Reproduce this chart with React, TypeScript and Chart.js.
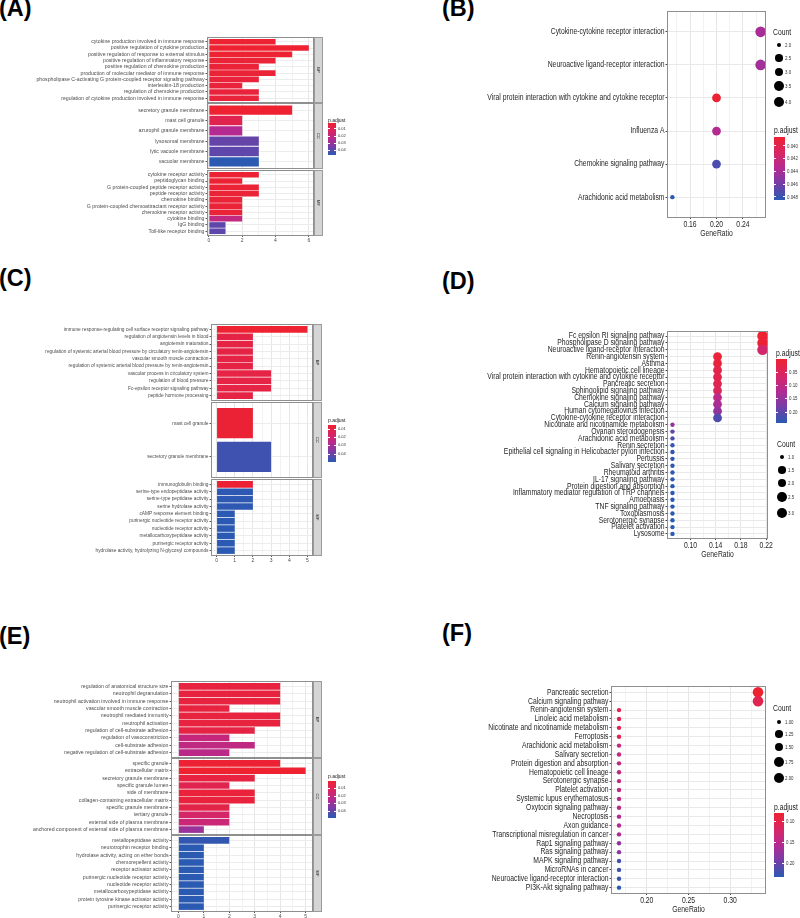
import React, { useEffect, useRef } from "react";
import { Chart, registerables } from "chart.js";

Chart.register(...registerables);

const SANS = "'Liberation Sans', Arial, Helvetica, sans-serif";
const DOT_FONT = 8.5;
const DOT_SQUEEZE = 0.8;

/* ========================= DATA ========================= */

// (A) GO enrichment barplot
const aBpTerms = [
  "cytokine production involved in immune response",
  "positive regulation of cytokine production",
  "positive regulation of response to external stimulus",
  "positive regulation of inflammatory response",
  "positive regulation of chemokine production",
  "production of molecular mediator of immune response",
  "phospholipase C-activating G protein-coupled receptor signaling pathway",
  "interleukin-18 production",
  "regulation of chemokine production",
  "regulation of cytokine production involved in immune response",
];
const aBpCount = [4, 6, 5, 4, 3, 4, 3, 2, 3, 3];
const aBpPadj = [0.002, 0.0017, 0.002, 0.003, 0.0035, 0.003, 0.004, 0.004, 0.004, 0.004];
const aCcTerms = [
  "secretory granule membrane",
  "mast cell granule",
  "azurophil granule membrane",
  "lysosomal membrane",
  "lytic vacuole membrane",
  "vacuolar membrane",
];
const aCcCount = [5, 2, 2, 3, 3, 3];
const aCcPadj = [0.0016, 0.0083, 0.024, 0.038, 0.039, 0.047];
const aMfTerms = [
  "cytokine receptor activity",
  "peptidoglycan binding",
  "G protein-coupled peptide receptor activity",
  "peptide receptor activity",
  "chemokine binding",
  "G protein-coupled chemoattractant receptor activity",
  "chemokine receptor activity",
  "cytokine binding",
  "IgG binding",
  "Toll-like receptor binding",
];
const aMfCount = [3, 2, 3, 3, 2, 2, 2, 2, 1, 1];
const aMfPadj = [0.0024, 0.0024, 0.003, 0.003, 0.0035, 0.0035, 0.0035, 0.02, 0.039, 0.039];
const aPadjLimits = [0.0015, 0.047];
const aPadjTicks = [0.01, 0.02, 0.03, 0.04];
const aCountLimits = [-0.05, 6.25];
const aCountTicks = [0, 1, 2, 3, 4, 5, 6];
const aCountLabelled = [0, 2, 4, 6];

// (B) KEGG dotplot
const bTerms = [
  "Cytokine-cytokine receptor interaction",
  "Neuroactive ligand-receptor interaction",
  "Viral protein interaction with cytokine and cytokine receptor",
  "Influenza A",
  "Chemokine signaling pathway",
  "Arachidonic acid metabolism",
];
const bRatio = [0.2667, 0.2667, 0.2, 0.2, 0.2, 0.1333];
const bCount = [4, 4, 3, 3, 3, 2];
const bPadj = [0.0441, 0.0443, 0.0388, 0.0436, 0.0474, 0.0484];
const bPadjLimits = [0.0386, 0.0485];
const bPadjTicks = [0.04, 0.042, 0.044, 0.046, 0.048];
const bCountLimits = [2, 4];
const bCountKeys = [2.0, 2.5, 3.0, 3.5, 4.0];
const bRatioLimits = [0.1267, 0.2733];
const bRatioTicks = [0.14, 0.16, 0.18, 0.2, 0.22, 0.24, 0.26];
const bRatioLabelled = [0.16, 0.2, 0.24];

// (C) GO enrichment barplot
const cBpTerms = [
  "immune response-regulating cell surface receptor signaling pathway",
  "regulation of angiotensin levels in blood",
  "angiotensin maturation",
  "regulation of systemic arterial blood pressure by circulatory renin-angiotensin",
  "vascular smooth muscle contraction",
  "regulation of systemic arterial blood pressure by renin-angiotensin",
  "vascular process in circulatory system",
  "regulation of blood pressure",
  "Fc-epsilon receptor signaling pathway",
  "peptide hormone processing",
];
const cBpCount = [5, 2, 2, 2, 2, 2, 3, 3, 3, 2];
const cBpPadj = [0.0053, 0.0096, 0.0096, 0.0096, 0.0096, 0.0096, 0.0098, 0.0098, 0.0098, 0.0096];
const cCcTerms = ["mast cell granule", "secretory granule membrane"];
const cCcCount = [2, 3];
const cCcPadj = [0.0065, 0.0465];
const cMfTerms = [
  "immunoglobulin binding",
  "serine-type endopeptidase activity",
  "serine-type peptidase activity",
  "serine hydrolase activity",
  "cAMP response element binding",
  "purinergic nucleotide receptor activity",
  "nucleotide receptor activity",
  "metallocarboxypeptidase activity",
  "purinergic receptor activity",
  "hydrolase activity, hydrolyzing N-glycosyl compounds",
];
const cMfCount = [2, 2, 2, 2, 1, 1, 1, 1, 1, 1];
const cMfPadj = [0.006, 0.0492, 0.0492, 0.0492, 0.0495, 0.0495, 0.0495, 0.0495, 0.0495, 0.0495];
const cPadjLimits = [0.0052, 0.0496];
const cPadjTicks = [0.01, 0.02, 0.03, 0.04];
const cCountLimits = [-0.25, 5.25];
const cCountTicks = [0, 0.5, 1, 1.5, 2, 2.5, 3, 3.5, 4, 4.5, 5];
const cCountLabelled = [0, 1, 2, 3, 4, 5];

// (D) KEGG dotplot
const dTerms = [
  "Fc epsilon RI signaling pathway",
  "Phospholipase D signaling pathway",
  "Neuroactive ligand-receptor interaction",
  "Renin-angiotensin system",
  "Asthma",
  "Hematopoietic cell lineage",
  "Viral protein interaction with cytokine and cytokine receptor",
  "Pancreatic secretion",
  "Sphingolipid signaling pathway",
  "Chemokine signaling pathway",
  "Calcium signaling pathway",
  "Human cytomegalovirus infection",
  "Cytokine-cytokine receptor interaction",
  "Nicotinate and nicotinamide metabolism",
  "Ovarian steroidogenesis",
  "Arachidonic acid metabolism",
  "Renin secretion",
  "Epithelial cell signaling in Helicobacter pylori infection",
  "Pertussis",
  "Salivary secretion",
  "Rheumatoid arthritis",
  "IL-17 signaling pathway",
  "Protein digestion and absorption",
  "Inflammatory mediator regulation of TRP channels",
  "Amoebiasis",
  "TNF signaling pathway",
  "Toxoplasmosis",
  "Serotonergic synapse",
  "Platelet activation",
  "Lysosome",
];
const dRatio = [
  0.2143, 0.2143, 0.2143,
  0.1429, 0.1429, 0.1429, 0.1429, 0.1429, 0.1429, 0.1429, 0.1429, 0.1429, 0.1429,
  0.0714, 0.0714, 0.0714, 0.0714, 0.0714, 0.0714, 0.0714, 0.0714, 0.0714, 0.0714,
  0.0714, 0.0714, 0.0714, 0.0714, 0.0714, 0.0714, 0.0714,
];
const dCount = [3, 3, 3, 2, 2, 2, 2, 2, 2, 2, 2, 2, 2, 1, 1, 1, 1, 1, 1, 1, 1, 1, 1, 1, 1, 1, 1, 1, 1, 1];
const dPadj = [
  0.002, 0.006, 0.07,
  0.013, 0.015, 0.03, 0.035, 0.039, 0.049, 0.11, 0.128, 0.152, 0.212,
  0.152, 0.2, 0.218, 0.232, 0.234, 0.235, 0.236, 0.237, 0.237, 0.238,
  0.238, 0.239, 0.239, 0.24, 0.24, 0.241, 0.241,
];
const dPadjLimits = [0.001, 0.241];
const dPadjTicks = [0.05, 0.1, 0.15, 0.2];
const dCountLimits = [1, 3];
const dCountKeys = [1.0, 1.5, 2.0, 2.5, 3.0];
const dRatioLimits = [0.0643, 0.2214];
const dRatioTicks = [0.08, 0.1, 0.12, 0.14, 0.16, 0.18, 0.2, 0.22];
const dRatioLabelled = [0.1, 0.14, 0.18, 0.22];

// (E) GO enrichment barplot
const eBpTerms = [
  "regulation of anatomical structure size",
  "neutrophil degranulation",
  "neutrophil activation involved in immune response",
  "vascular smooth muscle contraction",
  "neutrophil mediated immunity",
  "neutrophil activation",
  "regulation of cell-substrate adhesion",
  "regulation of vasoconstriction",
  "cell-substrate adhesion",
  "negative regulation of cell-substrate adhesion",
];
const eBpCount = [4, 4, 4, 2, 4, 4, 3, 2, 3, 2];
const eBpPadj = [0.0037, 0.0037, 0.0037, 0.0037, 0.0037, 0.0037, 0.0051, 0.0186, 0.0205, 0.022];
const eCcTerms = [
  "specific granule",
  "extracellular matrix",
  "secretory granule membrane",
  "specific granule lumen",
  "side of membrane",
  "collagen-containing extracellular matrix",
  "specific granule membrane",
  "tertiary granule",
  "external side of plasma membrane",
  "anchored component of external side of plasma membrane",
];
const eCcCount = [4, 5, 3, 2, 3, 3, 2, 2, 2, 1];
const eCcPadj = [0.0013, 0.0004, 0.0042, 0.0075, 0.0027, 0.0032, 0.0061, 0.0138, 0.0172, 0.0292];
const eMfTerms = [
  "metallopeptidase activity",
  "neurotrophin receptor binding",
  "hydrolase activity, acting on ether bonds",
  "chemorepellent activity",
  "receptor activator activity",
  "purinergic nucleotide receptor activity",
  "nucleotide receptor activity",
  "metallocarboxypeptidase activity",
  "protein tyrosine kinase activator activity",
  "purinergic receptor activity",
];
const eMfCount = [2, 1, 1, 1, 1, 1, 1, 1, 1, 1];
const eMfPadj = [0.047, 0.0485, 0.0485, 0.0485, 0.0485, 0.0485, 0.0485, 0.0485, 0.0485, 0.0485];
const ePadjLimits = [0.0003, 0.0485];
const ePadjTicks = [0.01, 0.02, 0.03, 0.04];
const eCountLimits = [-0.25, 5.25];
const eCountTicks = [0, 0.5, 1, 1.5, 2, 2.5, 3, 3.5, 4, 4.5, 5];
const eCountLabelled = [0, 1, 2, 3, 4, 5];

// (F) KEGG dotplot
const fTerms = [
  "Pancreatic secretion",
  "Calcium signaling pathway",
  "Renin-angiotensin system",
  "Linoleic acid metabolism",
  "Nicotinate and nicotinamide metabolism",
  "Ferroptosis",
  "Arachidonic acid metabolism",
  "Salivary secretion",
  "Protein digestion and absorption",
  "Hematopoietic cell lineage",
  "Serotonergic synapse",
  "Platelet activation",
  "Systemic lupus erythematosus",
  "Oxytocin signaling pathway",
  "Necroptosis",
  "Axon guidance",
  "Transcriptional misregulation in cancer",
  "Rap1 signaling pathway",
  "Ras signaling pathway",
  "MAPK signaling pathway",
  "MicroRNAs in cancer",
  "Neuroactive ligand-receptor interaction",
  "PI3K-Akt signaling pathway",
];
const fRatio = [
  0.3333, 0.3333, 0.1667, 0.1667, 0.1667, 0.1667, 0.1667, 0.1667, 0.1667, 0.1667, 0.1667, 0.1667,
  0.1667, 0.1667, 0.1667, 0.1667, 0.1667, 0.1667, 0.1667, 0.1667, 0.1667, 0.1667, 0.1667,
];
const fCount = [2, 2, 1, 1, 1, 1, 1, 1, 1, 1, 1, 1, 1, 1, 1, 1, 1, 1, 1, 1, 1, 1, 1];
const fPadj = [
  0.082, 0.104, 0.104, 0.106, 0.106, 0.107, 0.139, 0.142, 0.142, 0.143, 0.145, 0.145,
  0.146, 0.149, 0.157, 0.157, 0.16, 0.178, 0.181, 0.219, 0.222, 0.226, 0.232,
];
const fPadjLimits = [0.081, 0.233];
const fPadjTicks = [0.1, 0.15, 0.2];
const fCountLimits = [1, 2];
const fCountKeys = [1.0, 1.25, 1.5, 1.75, 2.0];
const fRatioLimits = [0.1583, 0.3417];
const fRatioTicks = [0.175, 0.2, 0.225, 0.25, 0.275, 0.3, 0.325];
const fRatioLabelled = [0.2, 0.25, 0.3];

/* ========================= HELPERS ========================= */

const RAMP = [
  [238, 34, 48],
  [216, 38, 100],
  [180, 42, 145],
  [116, 62, 168],
  [42, 90, 178],
];
function ramp(t: number): string {
  const c = Math.max(0, Math.min(1, t)) * (RAMP.length - 1);
  const i = Math.min(Math.floor(c), RAMP.length - 2);
  const f = c - i;
  const rgb = RAMP[i].map((v, k) => Math.round(v + (RAMP[i + 1][k] - v) * f));
  return `rgb(${rgb.join(",")})`;
}
const padjColour = (p: number, lim: number[]) => ramp((p - lim[0]) / (lim[1] - lim[0]));
const dotRadius = (c: number, lim: number[]) =>
  (4.4 + 6.2 * Math.sqrt(Math.max(0, (c - lim[0]) / (lim[1] - lim[0])))) / 2;
const near = (list: number[], v: number) => list.some((m) => Math.abs(m - v) < 1e-6);

function framePlugin(strip?: string) {
  return {
    id: "panelFrame",
    afterDraw(chart: any) {
      const { ctx, chartArea: a } = chart;
      ctx.save();
      ctx.strokeStyle = "#8f8f8f";
      ctx.lineWidth = 1;
      const l = Math.round(a.left) - 0.5;
      const t = Math.round(a.top) - 0.5;
      const r = Math.round(a.right) + 0.5;
      const b = Math.round(a.bottom) + 0.5;
      ctx.strokeRect(l, t, r - l, b - t);
      if (strip) {
        const sx = r + 1;
        const sw = 8;
        ctx.fillStyle = "#d5d5d5";
        ctx.fillRect(sx, t, sw, b - t);
        ctx.strokeStyle = "#9a9a9a";
        ctx.strokeRect(sx, t, sw, b - t);
        ctx.translate(sx + sw / 2, (t + b) / 2);
        ctx.rotate(Math.PI / 2);
        ctx.font = `4px ${SANS}`;
        ctx.fillStyle = "#1a1a1a";
        ctx.textAlign = "center";
        ctx.textBaseline = "middle";
        ctx.fillText(strip, 0, 0);
      }
      ctx.restore();
    },
  };
}

// Draws the category labels of a dot plot, condensed horizontally like the reference.
function condensedLabelPlugin(terms: string[]) {
  return {
    id: "condensedLabels",
    afterDraw(chart: any) {
      const { ctx, chartArea: a } = chart;
      const ys = chart.scales.y;
      const xs = chart.scales.x;
      ctx.save();
      ctx.font = `${DOT_FONT}px ${SANS}`;
      ctx.fillStyle = "#1f1f1f";
      ctx.textAlign = "right";
      ctx.textBaseline = "middle";
      terms.forEach((t, i) => {
        ctx.save();
        ctx.translate(a.left - 3.5, ys.getPixelForValue(i));
        ctx.scale(DOT_SQUEEZE, 1);
        ctx.fillText(t, 0, 0);
        ctx.restore();
      });
      ctx.textAlign = "center";
      ctx.textBaseline = "top";
      xs.ticks.forEach((tk: any) => {
        if (!tk.label) return;
        ctx.save();
        ctx.translate(xs.getPixelForValue(tk.value), a.bottom + 3);
        ctx.scale(DOT_SQUEEZE, 1);
        ctx.fillText(tk.label, 0, 0);
        ctx.restore();
      });
      ctx.save();
      ctx.translate((a.left + a.right) / 2, a.bottom + 12.5);
      ctx.scale(DOT_SQUEEZE, 1);
      ctx.fillText("GeneRatio", 0, 0);
      ctx.restore();
      ctx.restore();
    },
  };
}

type FacetProps = {
  terms: string[];
  counts: number[];
  padj: number[];
  limits: number[];
  strip: string;
  left: number;
  right: number;
  top: number;
  bottom: number;
  xLimits: number[];
  xTicks: number[];
  xLabelled: number[];
  showAxis: boolean;
  fontSize: number;
};

function BarFacet(p: FacetProps) {
  const ref = useRef<HTMLCanvasElement>(null);
  const PADT = 8;
  const PADB = 8;
  const XH = 9;
  const width = p.right + 12;
  const height = PADT + (p.bottom - p.top) + (p.showAxis ? XH : PADB);
  useEffect(() => {
    const n = p.terms.length;
    const chart = new Chart(ref.current as HTMLCanvasElement, {
      type: "bar",
      data: {
        datasets: [
          {
            data: p.terms.map((_, i) => ({ x: p.counts[i], y: i })),
            backgroundColor: p.padj.map((v) => padjColour(v, p.limits)),
            borderWidth: 0,
            barPercentage: 0.9,
            categoryPercentage: 1,
          } as any,
        ],
      },
      options: {
        indexAxis: "y",
        responsive: false,
        animation: false,
        events: [],
        layout: { padding: { left: 0, top: PADT, right: width - p.right, bottom: p.showAxis ? 0 : PADB } },
        plugins: { legend: { display: false }, tooltip: { enabled: false } },
        scales: {
          x: {
            type: "linear",
            min: p.xLimits[0],
            max: p.xLimits[1],
            bounds: "data",
            afterBuildTicks: (s: any) => {
              s.ticks = p.xTicks.map((v) => ({ value: v }));
            },
            afterFit: (s: any) => {
              s.height = p.showAxis ? XH : 0;
            },
            border: { display: false },
            grid: {
              color: (c: any) => (near(p.xLabelled, c.tick.value) ? "#e6e6e6" : "#f2f2f2"),
              lineWidth: 1,
              drawTicks: p.showAxis,
              tickLength: 2,
              tickColor: (c: any) => (near(p.xLabelled, c.tick.value) ? "#555" : "rgba(0,0,0,0)"),
            },
            ticks: {
              display: p.showAxis,
              autoSkip: false,
              maxRotation: 0,
              padding: 0.5,
              color: "#4d4d4d",
              font: { family: SANS, size: 5 },
              callback: (v: any) => (near(p.xLabelled, Number(v)) ? String(v) : ""),
            },
          },
          y: {
            type: "linear",
            reverse: true,
            offset: false,
            min: -0.6,
            max: n - 0.4,
            bounds: "data",
            afterBuildTicks: (s: any) => {
              s.ticks = p.terms.map((_, i) => ({ value: i }));
            },
            afterFit: (s: any) => {
              s.width = p.left;
            },
            border: { display: false },
            grid: { offset: false, color: "#ececec", lineWidth: 1, tickLength: 2.5, tickColor: "#555" },
            ticks: {
              autoSkip: false,
              padding: 1,
              color: "#4d4d4d",
              font: { family: SANS, size: p.fontSize },
              callback: (v: any) => p.terms[Number(v)] ?? "",
            },
          },
        },
      } as any,
      plugins: [framePlugin(p.strip)],
    });
    return () => chart.destroy();
  }, []);
  return (
    <canvas
      ref={ref}
      width={width}
      height={height}
      style={{ position: "absolute", left: 0, top: p.top - PADT, width, height }}
    />
  );
}

type DotProps = {
  terms: string[];
  ratio: number[];
  count: number[];
  padj: number[];
  padjLimits: number[];
  countLimits: number[];
  xLimits: number[];
  xTicks: number[];
  xLabelled: number[];
  left: number;
  right: number;
  top: number;
  bottom: number;
  axisH: number;
};

function DotPlot(p: DotProps) {
  const ref = useRef<HTMLCanvasElement>(null);
  const X0 = 400;
  const PADT = 10;
  const width = p.right - X0 + 10;
  const height = PADT + (p.bottom - p.top) + p.axisH;
  useEffect(() => {
    const n = p.terms.length;
    const chart = new Chart(ref.current as HTMLCanvasElement, {
      type: "scatter",
      data: {
        datasets: [
          {
            data: p.terms.map((_, i) => ({ x: p.ratio[i], y: i })),
            pointRadius: p.count.map((c) => dotRadius(c, p.countLimits)),
            pointBackgroundColor: p.padj.map((v) => padjColour(v, p.padjLimits)),
            pointBorderWidth: 0,
            pointBorderColor: "rgba(0,0,0,0)",
          } as any,
        ],
      },
      options: {
        responsive: false,
        animation: false,
        events: [],
        layout: { padding: { left: 0, top: PADT, right: width - (p.right - X0), bottom: 0 } },
        plugins: { legend: { display: false }, tooltip: { enabled: false } },
        scales: {
          x: {
            type: "linear",
            min: p.xLimits[0],
            max: p.xLimits[1],
            bounds: "data",
            afterBuildTicks: (s: any) => {
              s.ticks = p.xTicks.map((v) => ({ value: v }));
            },
            afterFit: (s: any) => {
              s.height = p.axisH;
            },
            border: { display: false },
            grid: {
              color: (c: any) => (near(p.xLabelled, c.tick.value) ? "#e6e6e6" : "#f2f2f2"),
              lineWidth: 1,
              tickLength: 2,
              tickColor: (c: any) => (near(p.xLabelled, c.tick.value) ? "#444" : "rgba(0,0,0,0)"),
            },
            ticks: {
              display: false,
              autoSkip: false,
              maxRotation: 0,
              callback: (v: any) => (near(p.xLabelled, Number(v)) ? Number(v).toFixed(2) : ""),
            },
          },
          y: {
            type: "linear",
            reverse: true,
            offset: false,
            min: -0.6,
            max: n - 0.4,
            bounds: "data",
            afterBuildTicks: (s: any) => {
              s.ticks = p.terms.map((_, i) => ({ value: i }));
            },
            afterFit: (s: any) => {
              s.width = p.left - X0;
            },
            border: { display: false },
            grid: { color: "#e9e9e9", lineWidth: 1, tickLength: 2.5, tickColor: "#444" },
            ticks: { display: false, autoSkip: false },
          },
        },
      } as any,
      plugins: [framePlugin(), condensedLabelPlugin(p.terms)],
    });
    return () => chart.destroy();
  }, []);
  return (
    <canvas
      ref={ref}
      width={width}
      height={height}
      style={{ position: "absolute", left: X0, top: p.top - PADT, width, height }}
    />
  );
}

function Txt(props: { x: number; cy: number; size: number; text: string; color?: string; squeeze?: number }) {
  return (
    <div
      style={{
        position: "absolute",
        left: props.x,
        top: props.cy - props.size * 0.6,
        fontSize: props.size,
        lineHeight: `${props.size * 1.2}px`,
        color: props.color ?? "#1a1a1a",
        whiteSpace: "nowrap",
        transform: props.squeeze ? `scaleX(${props.squeeze})` : undefined,
        transformOrigin: "left center",
      }}
    >
      {props.text}
    </div>
  );
}

function PadjBar(props: {
  x: number;
  titleY: number;
  barY: number;
  w: number;
  h: number;
  limits: number[];
  ticks: number[];
  digits: number;
  titleSize: number;
  labelSize: number;
  squeeze?: number;
}) {
  const { x, barY, w, h, limits } = props;
  const grad = `linear-gradient(to bottom, ${[0, 0.25, 0.5, 0.75, 1].map((t) => ramp(t)).join(", ")})`;
  return (
    <>
      <Txt x={x} cy={props.titleY} size={props.titleSize} text="p.adjust" squeeze={props.squeeze} />
      <div style={{ position: "absolute", left: x, top: barY, width: w, height: h, background: grad }} />
      {props.ticks.map((v) => {
        const y = barY + ((v - limits[0]) / (limits[1] - limits[0])) * h;
        return (
          <React.Fragment key={v}>
            <div style={{ position: "absolute", left: x, top: y - 0.5, width: w * 0.2, height: 1, background: "#fff" }} />
            <div
              style={{ position: "absolute", left: x + w * 0.8, top: y - 0.5, width: w * 0.2, height: 1, background: "#fff" }}
            />
            <Txt x={x + w + 2} cy={y} size={props.labelSize} text={v.toFixed(props.digits)} color="#333"
              squeeze={props.squeeze} />
          </React.Fragment>
        );
      })}
    </>
  );
}

function CountKeys(props: {
  x: number;
  titleY: number;
  keyX: number;
  keyYs: number[];
  values: number[];
  limits: number[];
  digits: number;
}) {
  return (
    <>
      <Txt x={props.x} cy={props.titleY} size={DOT_FONT} text="Count" squeeze={DOT_SQUEEZE} />
      {props.values.map((v, i) => {
        const r = dotRadius(v, props.limits);
        const y = props.keyYs[i];
        return (
          <React.Fragment key={v}>
            <div
              style={{
                position: "absolute",
                left: props.keyX - r,
                top: y - r,
                width: 2 * r,
                height: 2 * r,
                borderRadius: "50%",
                background: "#000",
              }}
            />
            <Txt x={props.keyX + 6} cy={y} size={5.5} text={v.toFixed(props.digits)} color="#333"
              squeeze={DOT_SQUEEZE} />
          </React.Fragment>
        );
      })}
    </>
  );
}

function Tag(props: { text: string; x: number; y: number }) {
  return (
    <div
      style={{
        position: "absolute",
        left: props.x,
        top: props.y,
        fontSize: 23.5,
        lineHeight: "23.5px",
        fontWeight: "bold",
        color: "#000",
        whiteSpace: "nowrap",
      }}
    >
      {props.text}
    </div>
  );
}

/* ========================= APP ========================= */

export default function App() {
  return (
    <div
      style={{
        position: "absolute",
        left: 0,
        top: 0,
        width: 800,
        height: 918,
        overflow: "hidden",
        background: "#fff",
        fontFamily: SANS,
      }}
    >
      {/* (A) */}
      <Tag text="(A)" x={-1} y={-3} />
      <BarFacet terms={aBpTerms} counts={aBpCount} padj={aBpPadj} limits={aPadjLimits} strip="BP"
        left={208} right={313} top={38} bottom={102} xLimits={aCountLimits} xTicks={aCountTicks}
        xLabelled={aCountLabelled} showAxis={false} fontSize={5.2} />
      <BarFacet terms={aCcTerms} counts={aCcCount} padj={aCcPadj} limits={aPadjLimits} strip="CC"
        left={208} right={313} top={104} bottom={168} xLimits={aCountLimits} xTicks={aCountTicks}
        xLabelled={aCountLabelled} showAxis={false} fontSize={5.2} />
      <BarFacet terms={aMfTerms} counts={aMfCount} padj={aMfPadj} limits={aPadjLimits} strip="MF"
        left={208} right={313} top={171} bottom={235} xLimits={aCountLimits} xTicks={aCountTicks}
        xLabelled={aCountLabelled} showAxis={true} fontSize={5.2} />
      <PadjBar x={328} titleY={120} barY={123} w={8} h={32} limits={aPadjLimits} ticks={aPadjTicks}
        digits={2} titleSize={5} labelSize={4} />

      {/* (B) */}
      <Tag text="(B)" x={442} y={-3} />
      <DotPlot terms={bTerms} ratio={bRatio} count={bCount} padj={bPadj} padjLimits={bPadjLimits}
        countLimits={bCountLimits} xLimits={bRatioLimits} xTicks={bRatioTicks} xLabelled={bRatioLabelled}
        left={668} right={765} top={12} bottom={217} axisH={22} />
      <CountKeys x={773} titleY={32} keyX={779} keyYs={[45, 58, 72, 86, 102]} values={bCountKeys}
        limits={bCountLimits} digits={1} />
      <PadjBar x={774} titleY={130} barY={137} w={11} h={63} limits={bPadjLimits} ticks={bPadjTicks}
        digits={3} titleSize={DOT_FONT} labelSize={5.5} squeeze={DOT_SQUEEZE} />

      {/* (C) */}
      <Tag text="(C)" x={-1} y={267} />
      <BarFacet terms={cBpTerms} counts={cBpCount} padj={cBpPadj} limits={cPadjLimits} strip="BP"
        left={212} right={312} top={325} bottom={400} xLimits={cCountLimits} xTicks={cCountTicks}
        xLabelled={cCountLabelled} showAxis={false} fontSize={4.8} />
      <BarFacet terms={cCcTerms} counts={cCcCount} padj={cCcPadj} limits={cPadjLimits} strip="CC"
        left={212} right={312} top={403} bottom={477} xLimits={cCountLimits} xTicks={cCountTicks}
        xLabelled={cCountLabelled} showAxis={false} fontSize={4.8} />
      <BarFacet terms={cMfTerms} counts={cMfCount} padj={cMfPadj} limits={cPadjLimits} strip="MF"
        left={212} right={312} top={480} bottom={555} xLimits={cCountLimits} xTicks={cCountTicks}
        xLabelled={cCountLabelled} showAxis={true} fontSize={4.8} />
      <PadjBar x={328} titleY={420} barY={425} w={8} h={37} limits={cPadjLimits} ticks={cPadjTicks}
        digits={2} titleSize={5} labelSize={4} />

      {/* (D) */}
      <Tag text="(D)" x={442} y={270} />
      <DotPlot terms={dTerms} ratio={dRatio} count={dCount} padj={dPadj} padjLimits={dPadjLimits}
        countLimits={dCountLimits} xLimits={dRatioLimits} xTicks={dRatioTicks} xLabelled={dRatioLabelled}
        left={668} right={767} top={332} bottom={538} axisH={24} />
      <PadjBar x={776} titleY={353} barY={359} w={11} h={64} limits={dPadjLimits} ticks={dPadjTicks}
        digits={2} titleSize={DOT_FONT} labelSize={5.5} squeeze={DOT_SQUEEZE} />
      <CountKeys x={777} titleY={444} keyX={782} keyYs={[457, 470, 483, 497, 513]} values={dCountKeys}
        limits={dCountLimits} digits={1} />

      {/* (E) */}
      <Tag text="(E)" x={-1} y={625} />
      <BarFacet terms={eBpTerms} counts={eBpCount} padj={eBpPadj} limits={ePadjLimits} strip="BP"
        left={172} right={312} top={682} bottom={757} xLimits={eCountLimits} xTicks={eCountTicks}
        xLabelled={eCountLabelled} showAxis={false} fontSize={5.2} />
      <BarFacet terms={eCcTerms} counts={eCcCount} padj={eCcPadj} limits={ePadjLimits} strip="CC"
        left={172} right={312} top={759} bottom={834} xLimits={eCountLimits} xTicks={eCountTicks}
        xLabelled={eCountLabelled} showAxis={false} fontSize={5.2} />
      <BarFacet terms={eMfTerms} counts={eMfCount} padj={eMfPadj} limits={ePadjLimits} strip="MF"
        left={172} right={312} top={836} bottom={911} xLimits={eCountLimits} xTicks={eCountTicks}
        xLabelled={eCountLabelled} showAxis={true} fontSize={5.2} />
      <PadjBar x={328} titleY={776} barY={781} w={8} h={37} limits={ePadjLimits} ticks={ePadjTicks}
        digits={2} titleSize={5} labelSize={4} />

      {/* (F) */}
      <Tag text="(F)" x={442} y={622} />
      <DotPlot terms={fTerms} ratio={fRatio} count={fCount} padj={fPadj} padjLimits={fPadjLimits}
        countLimits={fCountLimits} xLimits={fRatioLimits} xTicks={fRatioTicks} xLabelled={fRatioLabelled}
        left={612} right={765} top={687} bottom={893} axisH={24} />
      <CountKeys x={773} titleY={708} keyX={779} keyYs={[722, 734, 747, 762, 778]} values={fCountKeys}
        limits={fCountLimits} digits={2} />
      <PadjBar x={774} titleY={807} barY={813} w={10} h={64} limits={fPadjLimits} ticks={fPadjTicks}
        digits={2} titleSize={DOT_FONT} labelSize={5.5} squeeze={DOT_SQUEEZE} />
    </div>
  );
}
